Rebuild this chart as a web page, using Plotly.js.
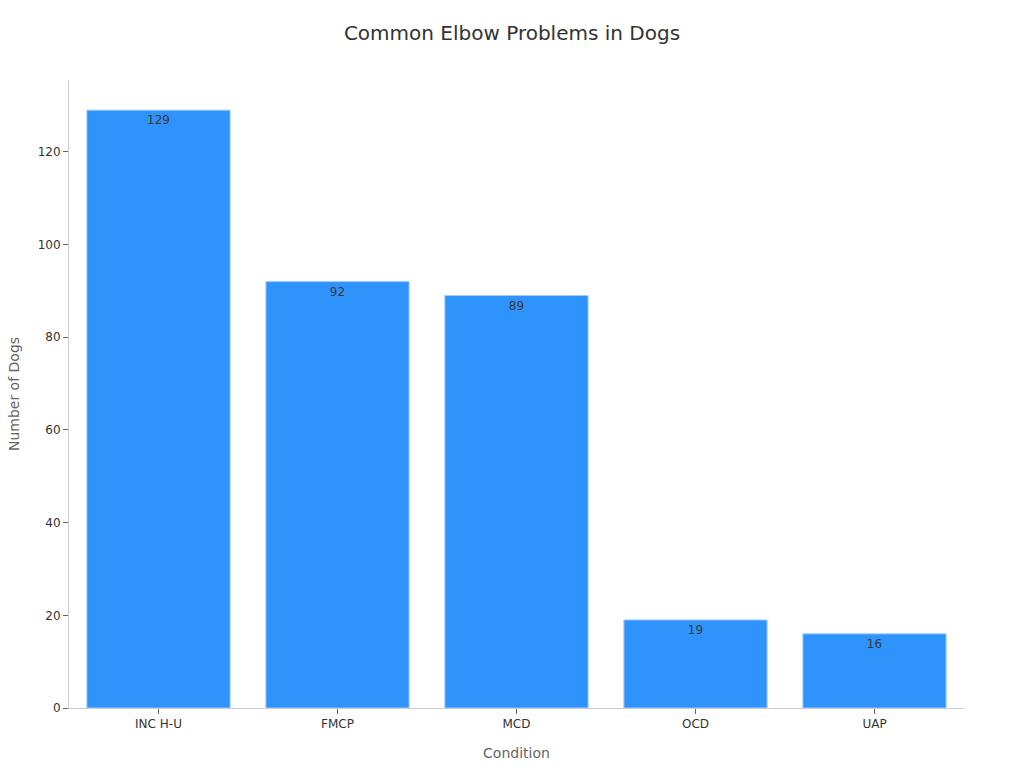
<!DOCTYPE html>
<html>
<head>
<meta charset="utf-8">
<script src="https://cdn.plot.ly/plotly-3.0.1.min.js"></script>
<style>
  html, body { margin: 0; padding: 0; background: #fff; }
  #chart { width: 1024px; height: 768px; }
</style>
</head>
<body>
<div id="chart"></div>
<script>
// Common elbow problems in dogs

var conditions = ['INC H-U', 'FMCP', 'MCD', 'OCD', 'UAP'];
var dogCounts = [129, 92, 89, 19, 16];

var bars = {
  x: conditions,
  y: dogCounts,
  type: 'bar',
  text: dogCounts,
  textposition: 'inside',
  insidetextanchor: 'end',
  textfont: { color: '#3a3a3a', size: 12 },
  hoverinfo: 'none',
  marker: {
    color: '#2e93fa',
    line: { color: '#9fcbf8', width: 1 }
  }
};

var layout = {
  font: {
    family: 'DejaVu Sans, sans-serif',
    size: 12,
    color: '#333333'
  },
  title: {
    text: 'Common Elbow Problems in Dogs',
    font: { size: 20, color: '#333333' },
    x: 0.5,
    y: 0.957,
    yanchor: 'middle'
  },
  showlegend: false,
  plot_bgcolor: '#ffffff',
  paper_bgcolor: '#ffffff',
  bargap: 0.2,
  margin: { l: 69, r: 60, t: 80, b: 60 },
  xaxis: {
    title: { text: 'Condition', font: { size: 14, color: '#666666' }, standoff: 17 },
    showline: true,
    linecolor: '#cccccc',
    ticks: 'outside',
    tickcolor: '#666666',
    ticklen: 5
  },
  yaxis: {
    title: { text: 'Number of Dogs', font: { size: 14, color: '#666666' }, standoff: 14 },
    range: [0, 135.5],
    dtick: 20,
    showline: true,
    linecolor: '#cccccc',
    showgrid: false,
    zeroline: false,
    ticks: 'outside',
    tickcolor: '#666666',
    ticklen: 5
  }
};

Plotly.newPlot('chart', [bars], layout, { staticPlot: true });
</script>
</body>
</html>
